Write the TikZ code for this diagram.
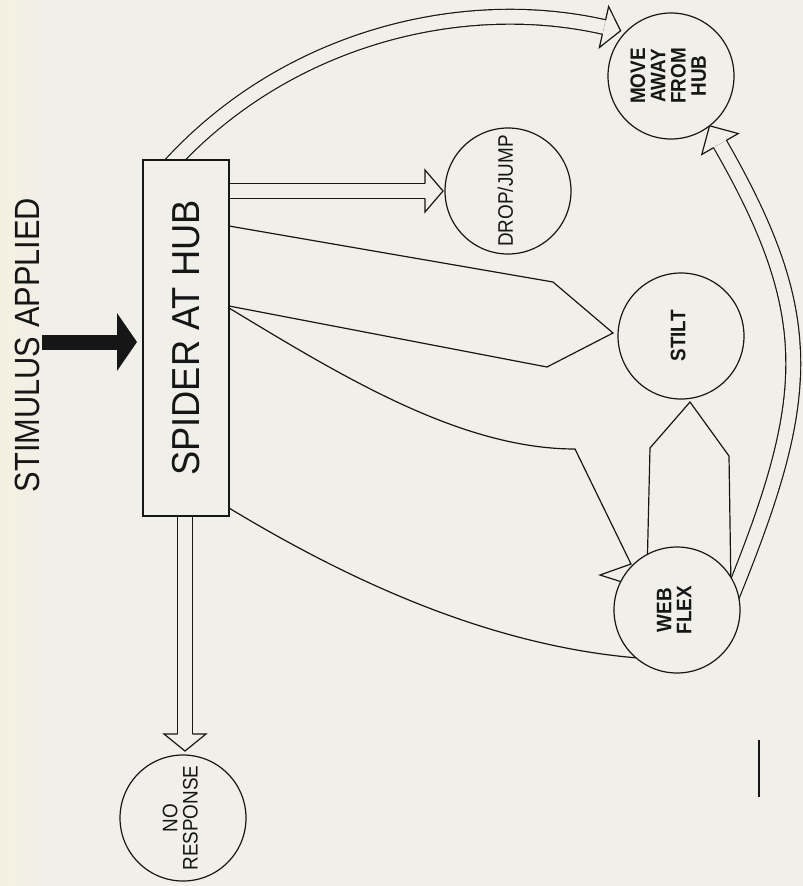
\documentclass[tikz,border=0pt]{standalone}
\usepackage{fontspec}
\setmainfont{Liberation Sans}
\usetikzlibrary{calc,arrows.meta}
\definecolor{paper}{RGB}{241,239,233}
\definecolor{ink}{RGB}{22,22,22}
\pgfdeclarelayer{back}
\pgfdeclarelayer{conn}
\pgfsetlayers{back,conn,main}
\newcommand\circtxt[1]{\scalebox{0.9}[1]{\begin{tabular}{@{}c@{}}#1\end{tabular}}}
\newcommand\hollowhead[2]{%
  \draw[conline] ($(#1)!7.4pt!90:(#2)$) -- ($(#1)!21pt!90:(#2)$) -- (#2)
     -- ($(#1)!21pt!-90:(#2)$) -- ($(#1)!7.4pt!-90:(#2)$);}
\tikzset{
  conline/.style={draw=ink, line width=1.2pt, line join=miter},
  shaft/.style={draw=ink, line width=1.2pt, double=paper, double distance=13.6pt},
  bubble/.style={circle, draw=ink, line width=1.2pt, fill=paper, minimum size=126pt,
     inner sep=0pt, rotate=90, text=ink, font=\fontsize{21}{19}\selectfont},
  hubbox/.style={rectangle, draw=ink, line width=1.2pt, fill=paper, minimum width=356pt,
     minimum height=86pt, inner sep=0pt, rotate=90, text=ink, font=\fontsize{39}{44}\selectfont},
}
\begin{document}
\begin{tikzpicture}[x=1pt,y=-1pt]
\useasboundingbox (0,0) rectangle (803,886);
\begin{pgfonlayer}{back}
  \fill[paper] (0,0) rectangle (803,886);
  \shade[left color={rgb,255:red,245;green,240;blue,224}, right color=paper] (0,0) rectangle (45,886);
\end{pgfonlayer}

% nodes
\node[text=ink, rotate=90, font=\fontsize{35}{40}\selectfont] (stim) at (27,345) {\scalebox{0.88}[1]{STIMULUS APPLIED}};
\node[hubbox] (box) at (186,338) {\scalebox{0.93}[1]{SPIDER AT HUB}};
\node[bubble] (move) at (671,76) {\bfseries\circtxt{MOVE\\AWAY\\FROM\\HUB}};
\node[bubble] (drop) at (508,191) {\circtxt{DROP/JUMP}};
\node[bubble] (stilt) at (681,336) {\bfseries\circtxt{STILT}};
\node[bubble] (web) at (677,610) {\bfseries\circtxt{WEB\\FLEX}};
\node[bubble] (nores) at (183,818) {\circtxt{NO\\RESPONSE}};

% coordinates
\coordinate (stimS) at (42,342);
\coordinate (stimT) at (137,342);
\coordinate (a0) at (164,172);
\coordinate (a1) at (280,40);
\coordinate (a2) at (458,-6);
\coordinate (aE) at (604,27);
\coordinate (aT) at ($(aE)!17pt!180:(a2)$);
\coordinate (b0) at (222,191);
\coordinate (bE) at (425,191);
\coordinate (bT) at (443,191);
\coordinate (c0) at (229,226);
\coordinate (c1) at (553,282);
\coordinate (cT) at (613,333);
\coordinate (c2) at (547,367);
\coordinate (c3) at (229,306);
\coordinate (d0) at (229,308);
\coordinate (d1) at (575,449);
\coordinate (d2) at (631,564);
\coordinate (dT) at (600,575);
\coordinate (d3) at (622,582);
\coordinate (e0) at (229,508);
\coordinate (e1) at (638,658);
\coordinate (f0) at (647,575);
\coordinate (f1) at (650,448);
\coordinate (fT) at (690,402);
\coordinate (f2) at (729,456);
\coordinate (f3) at (731,590);
\coordinate (g0) at (730,601);
\coordinate (g1) at (812,400);
\coordinate (g2) at (820,318);
\coordinate (gE) at (720,144);
\coordinate (gT) at ($(gE)!21pt!180:(g2)$);
\coordinate (h0) at (185,505);
\coordinate (hE) at (185,734);
\coordinate (hT) at (185,751);
\coordinate (bar1) at (759,740);
\coordinate (bar2) at (759,797);

\begin{pgfonlayer}{conn}
  % stimulus arrow
  \draw[ink, line width=15pt, -{Triangle[length=20pt, width=57pt]}] (stimS) -- (stimT);
  % box -> move away (top arc)
  \draw[shaft] (a0) .. controls (a1) and (a2) .. (aE);
  \hollowhead{aE}{aT}
  % box -> drop/jump
  \draw[shaft] (b0) -- (bE);
  \hollowhead{bE}{bT}
  % box -> stilt
  \draw[conline] (c0) -- (c1) -- (cT) -- (c2) -- (c3);
  % box -> web flex
  \draw[conline] (d0) .. controls (340,375) and (460,449) .. (d1) -- (d2) -- (dT) -- (d3);
  \draw[conline] (e0) .. controls (335,572) and (480,645) .. (e1);
  % web flex -> stilt
  \draw[conline] (f0) -- (f1) -- (fT) -- (f2) -- (f3);
  % web flex -> move away
  \draw[shaft] (g0) .. controls (g1) and (g2) .. (gE);
  \hollowhead{gE}{gT}
  % box -> no response
  \draw[shaft] (h0) -- (hE);
  \hollowhead{hE}{hT}
  % short bar
  \draw[ink, line width=1.8pt] (bar1) -- (bar2);
\end{pgfonlayer}
\end{tikzpicture}
\end{document}
